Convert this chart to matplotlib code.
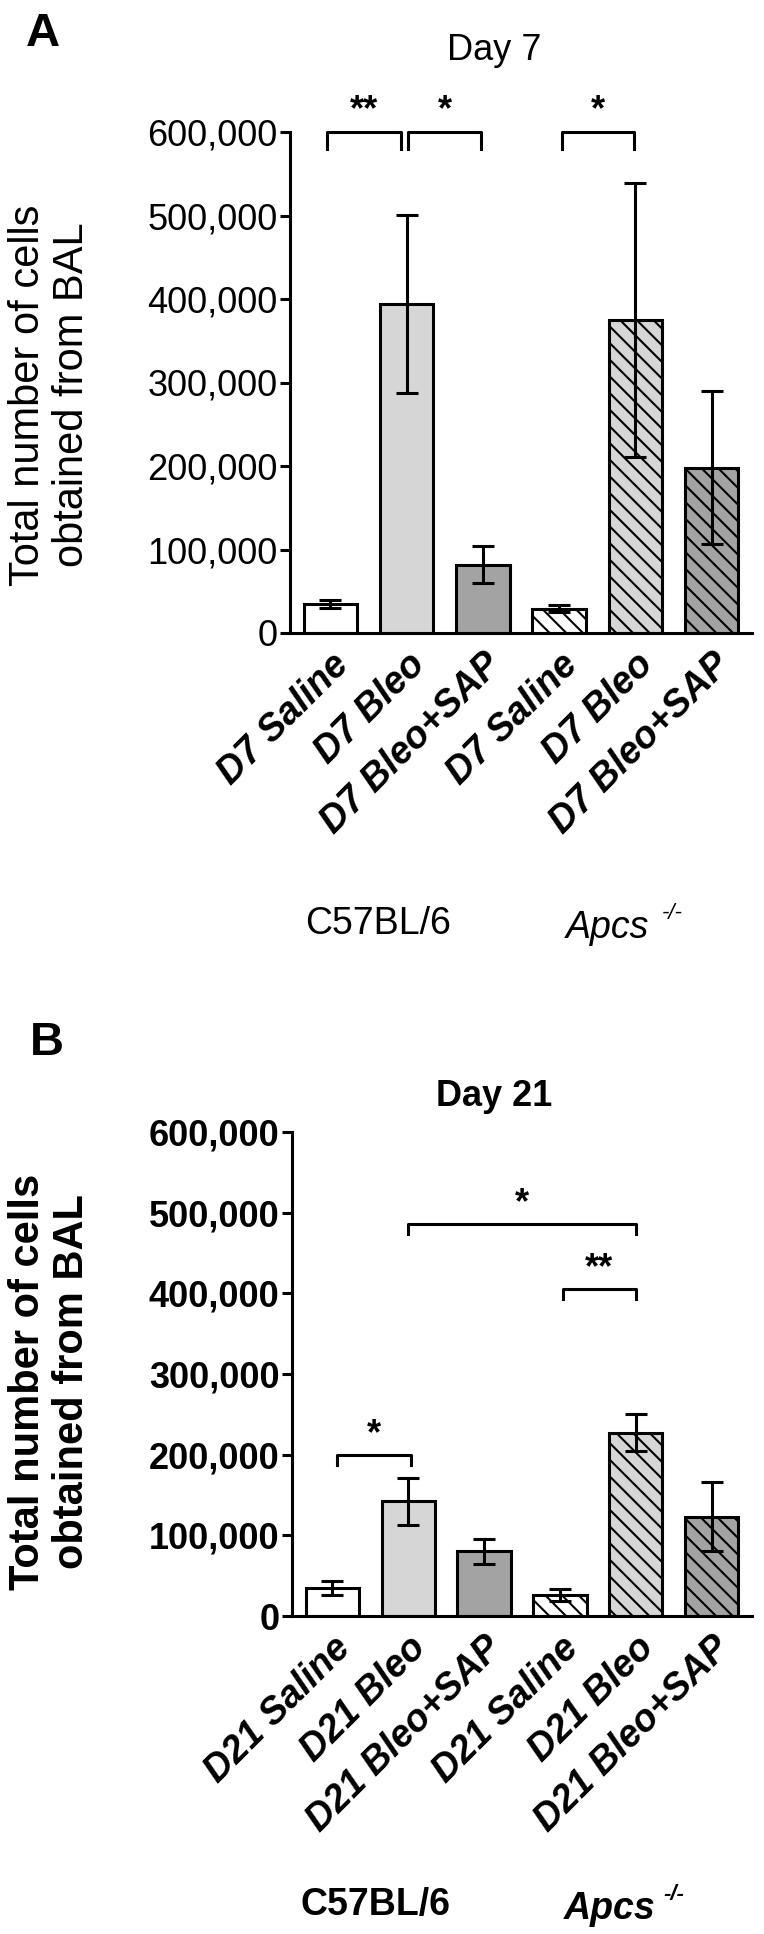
import numpy as np
import matplotlib.pyplot as plt

plt.rcParams['font.family'] = ['Liberation Sans', 'DejaVu Sans']
plt.rcParams['hatch.linewidth'] = 1.5

W, H = 764, 1934

groups_a = ['D7 Saline', 'D7 Bleo', 'D7 Bleo+SAP', 'D7 Saline', 'D7 Bleo', 'D7 Bleo+SAP']
groups_b = ['D21 Saline', 'D21 Bleo', 'D21 Bleo+SAP', 'D21 Saline', 'D21 Bleo', 'D21 Bleo+SAP']

# mean and SEM
day7_mean = [35000, 394000, 82000, 29000, 375000, 198000]
day7_err = [5000, 107000, 22000, 4000, 164000, 92000]
day21_mean = [35000, 142000, 80000, 26000, 227000, 123000]
day21_err = [9000, 29000, 16000, 8000, 23000, 43000]

yticks = [0, 100000, 200000, 300000, 400000, 500000, 600000]

# significance brackets: (x1, x2, top, leg bottom, label)
sig_a = [(-0.04, 0.92, 600000, 580000, '**'),
         (1.02, 1.98, 600000, 580000, '*'),
         (3.04, 3.98, 600000, 580000, '*')]
sig_b = [(0.06, 1.04, 199000, 187000, '*'),
         (1.0, 4.0, 486000, 474000, '*'),
         (3.04, 4.0, 405000, 393000, '**')]

colors = ['white', '#d6d6d6', '#a3a3a3', 'white', '#d6d6d6', '#a3a3a3']
hatches = ['', '', '', '\\\\', '\\\\', '\\\\']


def fx(px):
    return px / W


def fy(py):
    return 1 - py / H


def panel(rect, labels, means, errs, sig, weight):
    ax = fig.add_axes(rect)
    x = np.arange(len(means))
    ax.bar(x, means, width=0.7, color=colors, edgecolor='black',
           linewidth=2.2, hatch=hatches, zorder=2)
    ax.errorbar(x, means, yerr=errs, fmt='none', ecolor='black',
                elinewidth=2.2, capsize=8, capthick=2.2, zorder=3)
    ax.set_xlim(-0.53, 5.53)
    ax.set_ylim(0, 600000)
    ax.set_yticks(yticks)
    ax.set_yticklabels([f'{v:,}' for v in yticks], fontsize=26, fontweight=weight)
    ax.set_xticks(x)
    ax.set_xticklabels(labels, rotation=45, ha='right', va='top',
                       rotation_mode='anchor', fontsize=27,
                       fontweight='bold', fontstyle='italic')
    ax.tick_params(axis='x', length=0, pad=10)
    ax.tick_params(axis='y', length=7, width=2.2, pad=2)
    for s in ['top', 'right']:
        ax.spines[s].set_visible(False)
    for s in ['left', 'bottom']:
        ax.spines[s].set_linewidth(2.2)
    for x1, x2, top, low, txt in sig:
        ax.plot([x1, x1, x2, x2], [low, top, top, low], color='black',
                lw=2.2, clip_on=False, zorder=4)
        ax.text((x1 + x2) / 2, top + 4000, txt, ha='center', va='bottom',
                fontsize=26, fontweight='bold', clip_on=False)
    return ax


fig = plt.figure(figsize=(W / 100, H / 100), dpi=100)

# panel A
panel([fx(290), fy(633), fx(752) - fx(290), (633 - 132) / H],
      groups_a, day7_mean, day7_err, sig_a, 'normal')
fig.text(fx(43), fy(34), 'A', fontsize=34, fontweight='bold', ha='center', va='center')
fig.text(fx(494), fy(50), 'Day 7', fontsize=26, ha='center', va='center')
fig.text(fx(50), fy(395), 'Total number of cells\nobtained from BAL', rotation=90,
         fontsize=30, ha='center', va='center', multialignment='center',
         linespacing=1.15)
fig.text(fx(378), fy(924), 'C57BL/6', fontsize=27, ha='center', va='center')
fig.text(fx(608), fy(928), 'Apcs', fontsize=27, fontstyle='italic', ha='center', va='center')
fig.text(fx(672), fy(914), '-/-', fontsize=16, fontstyle='italic', ha='center', va='center')

# panel B
panel([fx(292), fy(1616), fx(752) - fx(292), (1616 - 1132) / H],
      groups_b, day21_mean, day21_err, sig_b, 'bold')
fig.text(fx(47), fy(1043), 'B', fontsize=34, fontweight='bold', ha='center', va='center')
fig.text(fx(494), fy(1097), 'Day 21', fontsize=26, fontweight='bold', ha='center', va='center')
fig.text(fx(50), fy(1382), 'Total number of cells\nobtained from BAL', rotation=90,
         fontsize=30, fontweight='bold', ha='center', va='center',
         multialignment='center', linespacing=1.15)
fig.text(fx(376), fy(1905), 'C57BL/6', fontsize=27, fontweight='bold', ha='center', va='center')
fig.text(fx(610), fy(1909), 'Apcs', fontsize=27, fontweight='bold', fontstyle='italic',
         ha='center', va='center')
fig.text(fx(674), fy(1895), '-/-', fontsize=16, fontweight='bold', fontstyle='italic',
         ha='center', va='center')

plt.savefig('out.png', dpi=100)
plt.close()
